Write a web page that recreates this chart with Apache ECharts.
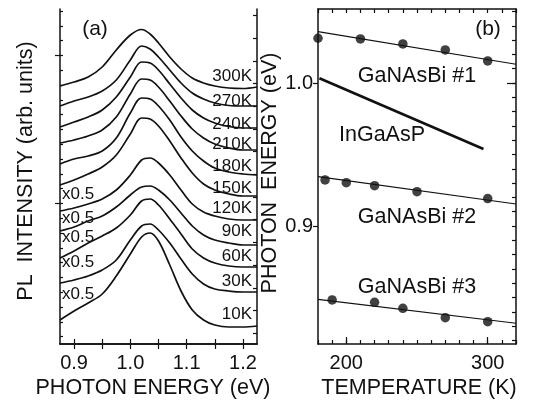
<!DOCTYPE html>
<html>
<head>
<meta charset="utf-8">
<script src="https://cdn.jsdelivr.net/npm/echarts@6/dist/echarts.min.js"></script>
<style>
html,body{margin:0;padding:0;background:#fff;}
#chart{width:533px;height:401px;}
</style>
</head>
<body>
<div id="chart"></div>
<script>
// ---------- Panel (a): PL spectra (arb. units, offset) ----------
const energy = [0.875, 0.90, 0.925, 0.95, 0.975, 1.00, 1.02, 1.035, 1.05, 1.07, 1.09, 1.11, 1.13, 1.15, 1.175, 1.20, 1.225];
const specLabels = ['300K','270K','240K','210K','180K','150K','120K','90K','60K','30K','10K'];
const pl300 = [25.8, 26.2, 26.7, 27.7, 29.4, 30.9, 31.45, 31.0, 30.1, 28.7, 27.5, 26.6, 26.1, 25.8, 25.6, 25.55, 25.7];
const pl270 = [23.8, 24.3, 24.7, 25.3, 26.4, 28.4, 29.8, 29.5, 28.7, 27.4, 26.1, 25.1, 24.5, 24.1, 23.85, 23.8, 23.8];
const pl240 = [21.7, 22.2, 22.7, 23.4, 24.7, 26.7, 28.2, 28.1, 27.4, 26.0, 24.6, 23.4, 22.6, 22.1, 21.75, 21.6, 21.6];
const pl210 = [20.1, 20.4, 20.8, 21.4, 22.7, 25.0, 26.5, 26.4, 25.7, 24.3, 22.8, 21.5, 20.6, 20.0, 19.6, 19.4, 19.4];
const pl180 = [18.0, 18.5, 18.8, 19.3, 20.6, 23.1, 24.6, 24.5, 23.8, 22.4, 20.7, 19.3, 18.3, 17.6, 17.2, 17.0, 16.9];
const pl150 = [15.9, 16.4, 17.0, 17.7, 18.9, 21.0, 22.6, 22.5, 21.8, 20.3, 18.6, 17.1, 16.0, 15.4, 15.0, 14.8, 14.8];
const pl120 = [13.3, 13.6, 14.0, 14.5, 15.4, 16.9, 18.4, 18.6, 18.1, 16.9, 15.4, 14.0, 13.2, 12.8, 12.5, 12.4, 12.4];
const pl90  = [11.3, 11.7, 12.3, 12.8, 13.7, 14.9, 15.7, 15.8, 15.4, 14.4, 13.1, 11.8, 10.9, 10.4, 10.1, 9.9, 9.9];
const pl60  = [8.6, 9.3, 10.1, 10.8, 11.6, 12.9, 14.3, 14.5, 13.9, 12.5, 11.0, 9.5, 8.6, 8.1, 7.8, 7.7, 7.7];
const pl30  = [6.1, 6.4, 6.8, 7.4, 8.4, 10.4, 11.8, 12.0, 11.4, 10.1, 8.5, 7.0, 6.0, 5.5, 5.3, 5.2, 5.2];
const pl10  = [2.4, 3.3, 4.1, 5.0, 6.8, 9.0, 10.7, 11.1, 10.3, 7.9, 5.3, 3.4, 2.4, 1.9, 1.7, 1.7, 1.8];
const spectra = [pl300, pl270, pl240, pl210, pl180, pl150, pl120, pl90, pl60, pl30, pl10];

const energyTicks = [0.90, 0.95, 1.00, 1.05, 1.10, 1.15, 1.20];
const energyTickLabels = [0.9, 1.0, 1.1, 1.2];
const intensityMinorTicks = [0.74, 2.22, 3.70, 5.18, 6.66, 8.14, 9.62, 11.10, 12.58, 14.06, 15.54, 17.02, 18.50, 19.98, 21.46, 22.94, 24.42, 25.90, 27.38, 28.86, 30.34, 31.82, 33.30];
const intensityMajorTicks = [14.06, 28.86];
const intensityRightTicks = [1.08, 3.35, 5.62, 7.89, 10.16, 12.43, 14.70, 16.97, 19.24, 21.51, 23.78, 26.05, 28.32, 30.59, 32.86];

// ---------- Panel (b): peak energy vs temperature ----------
const tempS1 = [180, 210, 240, 270, 300];
const eS1    = [1.0313, 1.0308, 1.0273, 1.0231, 1.0154];
const tempS2 = [185, 200, 220, 250, 300];
const eS2    = [0.9322, 0.9303, 0.9282, 0.9240, 0.9192];
const tempS3 = [190, 220, 240, 270, 300];
const eS3    = [0.8483, 0.8466, 0.8424, 0.8359, 0.8331];
const fitT   = [180, 320];
const fitS1  = [1.0359, 1.0131];
const fitS2  = [0.9345, 0.9154];
const fitS3  = [0.8487, 0.8320];
const inGaAsPT = [181, 297];
const inGaAsPE = [1.0033, 0.9538];
const sampleNames = ['GaNAsBi #1', 'InGaAsP', 'GaNAsBi #2', 'GaNAsBi #3'];
const tempTickLabels = [200, 300];
const energyBLabels = [0.9, 1.0];
const energyBMinor = [0.82,0.83,0.84,0.85,0.86,0.87,0.88,0.89,0.90,0.91,0.92,0.93,0.94,0.95,0.96,0.97,0.98,0.99,1.00,1.01,1.02,1.03,1.04,1.05];

const FONT = '"Liberation Sans", Arial, Helvetica, sans-serif';
const INK = '#111';

function zip(xs, ys){ return xs.map((x,i)=>[x, ys[i]]); }

const axLine = {show:true, lineStyle:{color:INK, width:1.5}};
const noLabel = {show:false};
const noSplit = {show:false};

const series = [];
spectra.forEach((s, i) => {
  series.push({
    name: specLabels[i], type:'line', xAxisIndex:0, yAxisIndex:0,
    data: zip(energy, s), showSymbol:false, symbol:'none', smooth:0.35,
    lineStyle:{color:INK, width:1.7}, silent:true, z:3
  });
});
[fitS1, fitS2, fitS3].forEach(f => {
  series.push({type:'line', xAxisIndex:2, yAxisIndex:3, data: zip(fitT, f), symbol:'none',
    lineStyle:{color:INK, width:1.1}, silent:true});
});
series.push({type:'line', xAxisIndex:2, yAxisIndex:3, data: zip(inGaAsPT, inGaAsPE), symbol:'none',
  lineStyle:{color:INK, width:2.6}, silent:true});
[[tempS1,eS1],[tempS2,eS2],[tempS3,eS3]].forEach(([t,e]) => {
  series.push({type:'scatter', xAxisIndex:2, yAxisIndex:3, data: zip(t,e), symbol:'circle',
    symbolSize:9.5, itemStyle:{color:INK}, clip:false, silent:true, z:5});
});

const labelYs = [76, 101, 124, 144, 166, 188, 208, 231, 256, 281, 314];
const halfYs = [194, 218, 237, 262, 294];

const graphics = [];
function txt(text, x, y, size, align, rot){
  graphics.push({type:'text', x:x, y:y, rotation: rot||0, silent:true, z:100,
    style:{text:text, fill:INK, fontSize:size, fontFamily:FONT, align:align||'center', verticalAlign:'middle'}});
}
specLabels.forEach((l,i)=> txt(l, 252, labelYs[i], 17, 'right'));
halfYs.forEach(y => txt('x0.5', 62, y, 17, 'left'));
txt('(a)', 95, 29, 21);
txt('(b)', 488, 29, 21);
txt(sampleNames[0], 417, 76, 21.5);
txt(sampleNames[1], 382, 135, 21.5);
txt(sampleNames[2], 417, 217, 21.5);
txt(sampleNames[3], 417, 287, 21.5);
txt('PHOTON ENERGY (eV)', 153, 388, 21.5);
txt('TEMPERATURE (K)', 419, 388, 21.5);
txt('PL  INTENSITY (arb. units)', 26, 171, 21.5, 'center', Math.PI/2);
txt('PHOTON  ENERGY (eV)', 270, 173, 21.5, 'center', Math.PI/2);

const option = {
  animation:false,
  backgroundColor:'#fff',
  grid:[
    {left:60, top:9, width:197, height:335},
    {left:318, top:9, width:198, height:335}
  ],
  xAxis:[
    {gridIndex:0, type:'value', min:0.875, max:1.225, position:'bottom', axisLine:axLine,
     axisTick:{show:true, inside:true, length:5, customValues:energyTicks, lineStyle:{color:INK,width:1.2}},
     axisLabel:{show:true, customValues:energyTickLabels, formatter:v=>v.toFixed(1), color:INK, fontSize:20, fontFamily:FONT, margin:9},
     splitLine:noSplit},
    {gridIndex:0, type:'value', min:0.875, max:1.225, position:'top', axisLine:axLine,
     axisTick:{show:true, inside:true, length:5, customValues:energyTicks, lineStyle:{color:INK,width:1.2}},
     axisLabel:noLabel, splitLine:noSplit},
    {gridIndex:1, type:'value', min:180, max:320, interval:10, position:'bottom', axisLine:axLine,
     axisTick:{show:true, inside:true, length:4, lineStyle:{color:INK,width:1.2}},
     axisLabel:{show:true, customValues:tempTickLabels, color:INK, fontSize:20, fontFamily:FONT, margin:9},
     splitLine:noSplit},
    {gridIndex:1, type:'value', min:180, max:320, interval:10, position:'top', axisLine:axLine,
     axisTick:{show:true, inside:true, length:4, lineStyle:{color:INK,width:1.2}},
     axisLabel:noLabel, splitLine:noSplit},
    {gridIndex:1, type:'value', min:180, max:320, position:'bottom', axisLine:{show:false},
     axisTick:{show:true, inside:true, length:7, customValues:tempTickLabels, lineStyle:{color:INK,width:1.2}},
     axisLabel:noLabel, splitLine:noSplit}
  ],
  yAxis:[
    {gridIndex:0, type:'value', min:0, max:33.5, position:'left', axisLine:axLine,
     axisTick:{show:true, inside:true, length:3, customValues:intensityMinorTicks, lineStyle:{color:INK,width:1.2}},
     axisLabel:noLabel, splitLine:noSplit},
    {gridIndex:0, type:'value', min:0, max:33.5, position:'left', axisLine:{show:false},
     axisTick:{show:true, inside:false, length:5, customValues:intensityMajorTicks, lineStyle:{color:INK,width:1.2}},
     axisLabel:noLabel, splitLine:noSplit},
    {gridIndex:0, type:'value', min:0, max:33.5, position:'right', axisLine:axLine,
     axisTick:{show:true, inside:true, length:4, customValues:intensityRightTicks, lineStyle:{color:INK,width:1.2}},
     axisLabel:noLabel, splitLine:noSplit},
    {gridIndex:1, type:'value', min:0.81748, max:1.05175, position:'left', axisLine:axLine,
     axisTick:{show:true, inside:false, length:5, customValues:energyBLabels, lineStyle:{color:INK,width:1.2}},
     axisLabel:{show:true, customValues:energyBLabels, formatter:v=>v.toFixed(1), color:INK, fontSize:20, fontFamily:FONT, margin:5},
     splitLine:noSplit},
    {gridIndex:1, type:'value', min:0.81748, max:1.05175, position:'right', axisLine:axLine,
     axisTick:{show:true, inside:true, length:4, customValues:energyBMinor, lineStyle:{color:INK,width:1.2}},
     axisLabel:noLabel, splitLine:noSplit},
    {gridIndex:1, type:'value', min:0.81748, max:1.05175, position:'right', axisLine:{show:false},
     axisTick:{show:true, inside:true, length:9, customValues:[1.0], lineStyle:{color:INK,width:1.2}},
     axisLabel:noLabel, splitLine:noSplit}
  ],
  series: series,
  graphic: graphics
};

const chart = echarts.init(document.getElementById('chart'), null, {renderer:'canvas'});
chart.setOption(option);
</script>
</body>
</html>
